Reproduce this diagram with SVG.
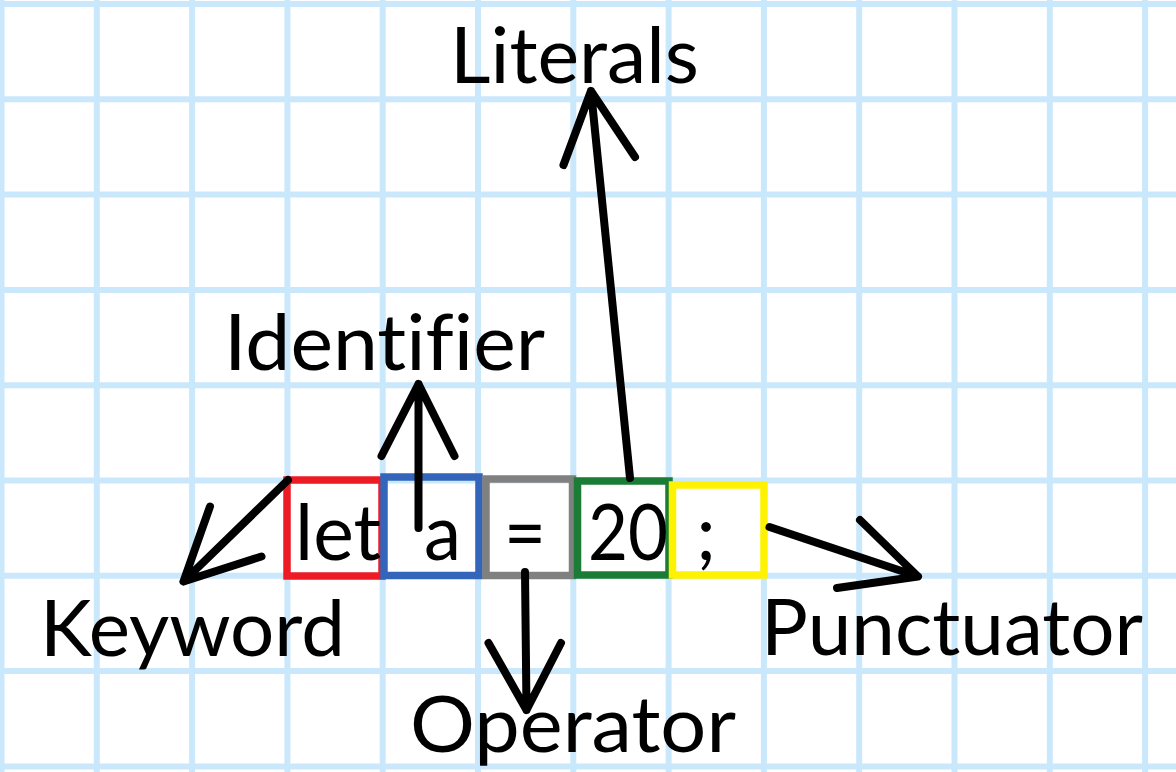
<svg xmlns="http://www.w3.org/2000/svg" width="1176" height="772" viewBox="0 0 1176 772">
<style>
.grid{stroke:#CAE8FB;stroke-width:6;fill:none}
.box{fill:none;stroke-width:7.5}
.lbl{font-family:Lato,"Open Sans","Liberation Sans",sans-serif;font-size:77px;fill:#000;font-variant-ligatures:none;font-feature-settings:"liga" 0}
.arr{stroke:#000;stroke-width:8;fill:none;stroke-linecap:round;stroke-linejoin:round}
</style>
<rect width="1176" height="772" fill="#fff"/>
<g id="grid" class="grid">
<path d="M1.5 0V772M96.8 0V772M192.1 0V772M287.4 0V772M382.7 0V772M478 0V772M573.3 0V772M668.6 0V772M763.9 0V772M859.2 0V772M954.5 0V772M1049.8 0V772M1145.1 0V772"/>
<path d="M0 4H1176M0 99.3H1176M0 194.6H1176M0 289.9H1176M0 385.2H1176M0 480.5H1176M0 575.8H1176M0 671.1H1176M0 766.4H1176"/>
</g>
<g id="node-let">
<rect class="box" x="287" y="480" width="95" height="96" stroke="#ED1C24"/>
<text class="lbl" x="295" y="560" textLength="86" lengthAdjust="spacingAndGlyphs">let</text>
</g>
<g id="node-a">
<rect class="box" x="384" y="477" width="95" height="98.5" stroke="#3366BB"/>
<text class="lbl" x="424" y="560" textLength="37" lengthAdjust="spacingAndGlyphs">a</text>
</g>
<g id="node-eq">
<rect class="box" x="486" y="479" width="86.5" height="96.5" stroke="#808080"/>
<text class="lbl" x="504" y="560" textLength="42" lengthAdjust="spacingAndGlyphs">=</text>
</g>
<g id="node-20">
<rect class="box" x="577.5" y="481" width="91.5" height="94" stroke="#1B7C36"/>
<text class="lbl" x="588" y="560" textLength="80" lengthAdjust="spacingAndGlyphs">20</text>
</g>
<g id="node-semi">
<rect class="box" x="672.5" y="485" width="91.5" height="90" stroke="#FFF200"/>
<text class="lbl" x="696" y="560">;</text>
</g>
<g id="label-keyword"><text class="lbl" x="40" y="656" textLength="305" lengthAdjust="spacingAndGlyphs">Keyword</text></g>
<g id="label-identifier"><text class="lbl" x="224" y="370" textLength="321" lengthAdjust="spacingAndGlyphs">Identifier</text></g>
<g id="label-literals"><text class="lbl" x="450" y="83" textLength="249" lengthAdjust="spacingAndGlyphs">Literals</text></g>
<g id="label-operator"><text class="lbl" x="410" y="752" textLength="326" lengthAdjust="spacingAndGlyphs">Operator</text></g>
<g id="label-punctuator"><text class="lbl" x="761" y="655" textLength="382" lengthAdjust="spacingAndGlyphs">Punctuator</text></g>
<g id="connectors" class="arr">
<path d="M288 480L183.5 581.5M210 506.5L183.5 581.5L261.5 556.5"/>
<path d="M418.5 528L418.5 384M381.5 456L418.5 384L454.5 456"/>
<path d="M630 478L591 91M563.5 165L591 91L635 157"/>
<path d="M525 572L526.5 710M488.5 643L526.5 710L561 643"/>
<path d="M769.5 527L918 576.5M860 520L918 576.5L837 588"/>
</g>
</svg>
